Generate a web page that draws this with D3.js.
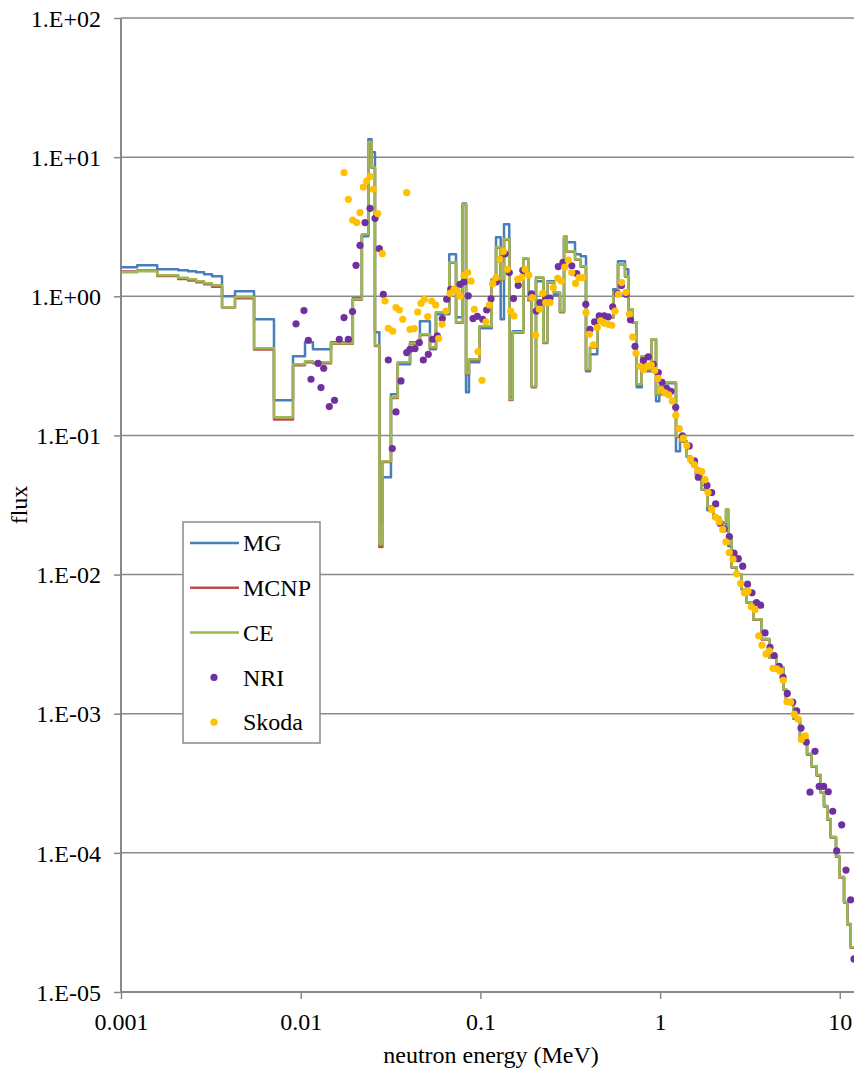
<!DOCTYPE html>
<html>
<head>
<meta charset="utf-8">
<script src="https://cdn.jsdelivr.net/npm/d3@7/dist/d3.min.js"></script>
<style>
  body { margin: 0; background: #fff; }
  svg text { font-family: "Liberation Serif", "Times New Roman", Times, "DejaVu Serif", serif; fill: #000; }
</style>
</head>
<body>
<div class="chart"></div>
<script>
// Group boundaries (MeV) shared by the three calculated spectra
var groupBounds = [0.001, 0.00123, 0.00159, 0.00208, 0.00236, 0.00262, 0.00290, 0.00321, 0.00365, 0.00431,
  0.00550, 0.00710, 0.00906, 0.01057, 0.0117, 0.01475, 0.0195, 0.0219, 0.0238, 0.0248,
  0.0259, 0.0274, 0.0285, 0.0318, 0.0347, 0.0406, 0.0461, 0.0524, 0.0566, 0.0671,
  0.0732, 0.0797, 0.0832, 0.0864, 0.0986, 0.1156, 0.1222, 0.1297, 0.1353, 0.1448,
  0.1513, 0.1733, 0.1848, 0.193, 0.2039, 0.2239, 0.2357, 0.2568, 0.2773, 0.292,
  0.3022, 0.3362, 0.3615, 0.387, 0.4074, 0.4473, 0.5492, 0.5833, 0.6379, 0.6655,
  0.7042, 0.7413, 0.7903, 0.8245, 0.8983, 0.9491, 0.9899, 1.0885, 1.226, 1.291,
  1.4065, 1.481, 1.585, 1.705, 1.832, 1.978, 2.155, 2.327, 2.396, 2.503,
  2.670, 2.847, 3.034, 3.303, 3.677, 4.054, 4.457, 4.851, 5.021, 5.513,
  6.005, 6.572, 6.981, 7.44, 7.831, 8.17, 8.522, 8.902, 9.528, 9.94,
  10.56, 11.01, 11.5, 12.0];

var mgFlux = [1.615, 1.670, 1.563, 1.537, 1.512, 1.487, 1.439, 1.392, 1.0, 1.086,
  0.684, 0.179, 0.371, 0.467, 0.416, 0.467, 0.967, 2.70, 13.42, 10.83,
  0.551, 0.0238, 0.0501, 0.198, 0.325, 0.467, 0.661, 0.416, 0.743, 2.003,
  0.707, 4.65, 0.204, 0.336, 0.589, 1.325, 2.654, 0.684, 3.290, 0.188,
  0.560, 1.563, 0.936, 0.2257, 1.282, 0.467, 1.282, 1.017, 0.767, 2.567,
  2.443, 2.003, 1.938, 0.289, 0.383, 0.707, 1.123, 1.784, 1.563, 0.806,
  0.650, 0.222, 0.371, 0.289, 0.491, 0.176, 0.198, 0.237, 0.0770, 0.0908,
  0.0709, 0.0642, 0.0520, 0.0411, 0.0290, 0.0255, 0.0238, 0.0229, 0.0160, 0.0113,
  0.01007, 0.00785, 0.00633, 0.00478, 0.00344, 0.00255, 0.00216, 0.00150, 0.00121, 0.000930,
  0.000668, 0.000513, 0.000420, 0.000362, 0.000273, 0.000217, 0.000175, 0.000130, 0.0000948, 0.0000670,
  0.0000443, 0.0000308, 0.0000210];

var mcnpFlux = [1.51, 1.53, 1.40, 1.33, 1.30, 1.26, 1.22, 1.17, 0.830, 0.97,
  0.415, 0.130, 0.320, 0.336, 0.330, 0.455, 0.945, 2.77, 12.7, 8.40,
  0.440, 0.0158, 0.0645, 0.186, 0.333, 0.455, 0.527, 0.425, 0.760, 1.74,
  0.645, 4.55, 0.275, 0.350, 0.603, 1.31, 2.23, 1.31, 2.55, 0.180,
  0.546, 1.86, 0.945, 0.222, 1.36, 0.462, 1.25, 1.06, 0.773, 2.68,
  2.09, 1.83, 1.63, 0.296, 0.426, 0.700, 1.06, 1.69, 1.38, 0.800,
  0.645, 0.231, 0.368, 0.296, 0.487, 0.196, 0.224, 0.239, 0.0975, 0.0900,
  0.0702, 0.0636, 0.0521, 0.0407, 0.0307, 0.0255, 0.0236, 0.0292, 0.0187, 0.0112,
  0.00998, 0.00778, 0.00627, 0.00474, 0.00341, 0.00253, 0.00214, 0.00149, 0.00120, 0.000921,
  0.000662, 0.000508, 0.000416, 0.000358, 0.000270, 0.000215, 0.000173, 0.000129, 0.0000939, 0.0000664,
  0.0000439, 0.0000305, 0.0000208];

var ceFlux = [1.487, 1.512, 1.415, 1.358, 1.325, 1.282, 1.240, 1.199, 0.834, 0.99,
  0.423, 0.135, 0.325, 0.341, 0.336, 0.460, 0.952, 2.789, 12.84, 8.45,
  0.445, 0.01654, 0.0653, 0.188, 0.336, 0.460, 0.533, 0.430, 0.767, 1.755,
  0.650, 4.58, 0.280, 0.353, 0.609, 1.325, 2.249, 1.325, 2.567, 0.182,
  0.551, 1.875, 0.952, 0.2257, 1.369, 0.467, 1.260, 1.068, 0.780, 2.698,
  2.105, 1.844, 1.643, 0.299, 0.430, 0.707, 1.068, 1.698, 1.392, 0.806,
  0.650, 0.2333, 0.371, 0.299, 0.491, 0.1977, 0.2257, 0.241, 0.0987, 0.0908,
  0.0709, 0.0642, 0.0526, 0.0411, 0.0310, 0.0258, 0.0238, 0.0295, 0.01887, 0.01130,
  0.01007, 0.00785, 0.00633, 0.00478, 0.00344, 0.00255, 0.00216, 0.00150, 0.00121, 0.000930,
  0.000668, 0.000513, 0.000420, 0.000362, 0.000273, 0.000217, 0.000175, 0.000130, 0.0000948, 0.0000670,
  0.0000443, 0.0000308, 0.0000210];

// Measured points
var nriEnergy = [0.00942, 0.01043, 0.01103, 0.01141, 0.01249, 0.01343, 0.01297, 0.01443, 0.01542, 0.01640,
  0.01742, 0.01841, 0.01943, 0.02032, 0.02138, 0.02280, 0.02431, 0.02592, 0.02738, 0.02883,
  0.03073, 0.03234, 0.03391, 0.03615, 0.03890, 0.04058, 0.04326, 0.04571, 0.04812, 0.05130,
  0.05429, 0.05758, 0.06138, 0.06494, 0.06836, 0.07700, 0.08105, 0.08565, 0.09097, 0.09612,
  0.1030, 0.1084, 0.1146, 0.1227, 0.1291, 0.1371, 0.1448, 0.1529, 0.1623, 0.1722,
  0.1925, 0.2047, 0.2146, 0.2312, 0.2440, 0.2714, 0.2882, 0.3227, 0.3436, 0.3860,
  0.4074, 0.4322, 0.4584, 0.4887, 0.5150, 0.5449, 0.5780, 0.6100, 0.6461, 0.6844,
  0.7252, 0.8068, 0.8600, 0.9168, 0.9775, 1.025, 1.088, 1.150, 1.222, 1.332,
  1.452, 1.554, 1.632, 1.824, 1.937, 2.039, 2.155, 2.275, 2.428, 2.578,
  2.725, 2.883, 3.066, 3.247, 3.440, 3.630, 3.837, 4.090, 4.316, 4.602,
  4.831, 5.105, 5.470, 5.758, 6.085, 6.512, 7.278, 6.829, 7.682, 8.138,
  8.631, 9.134, 10.25, 9.614, 10.83, 11.50, 12.0];
var nriFlux = [0.634, 0.789, 0.483, 0.2533, 0.330, 0.304, 0.2209, 0.1612, 0.1790, 0.491,
  0.703, 0.491, 0.776, 1.670, 2.325, 3.385, 4.287, 3.635, 2.201, 1.034,
  0.3485, 0.0805, 0.1475, 0.2463, 0.394, 0.416, 0.421, 0.465, 0.3485, 0.383,
  0.491, 0.519, 0.692, 0.952, 1.123, 1.219, 1.267, 1.008, 0.692, 0.718,
  0.684, 0.797, 0.959, 1.271, 1.844, 2.020, 1.480, 0.963, 1.199, 1.537,
  1.042, 0.784, 0.901, 0.958, 0.971, 1.635, 1.755, 1.656, 1.458, 0.876,
  0.579, 0.654, 0.722, 0.722, 0.712, 0.838, 1.051, 1.194, 1.034, 0.678,
  0.437, 0.345, 0.3675, 0.3247, 0.2830, 0.241, 0.2183, 0.2077, 0.1594, 0.0992,
  0.0841, 0.0656, 0.0501, 0.0437, 0.0389, 0.0322, 0.0234, 0.0213, 0.01878, 0.01424,
  0.0130, 0.01149, 0.00853, 0.00739, 0.00630, 0.00603, 0.00381, 0.00300, 0.00262, 0.00219,
  0.00183, 0.00140, 0.00121, 0.00105, 0.000788, 0.000625, 0.000537, 0.000273, 0.000300, 0.000300,
  0.000275, 0.000199, 0.000159, 0.0001035, 0.0000752, 0.0000460, 0.0000173];

var skodaEnergy = [0.01742, 0.01841, 0.01947, 0.02050, 0.02138, 0.02231, 0.02330, 0.02431, 0.02535, 0.02683,
  0.02846, 0.02946, 0.03073, 0.03251, 0.03391, 0.03538, 0.03695, 0.03890, 0.04058, 0.04288,
  0.04479, 0.04673, 0.04875, 0.05092, 0.05358, 0.05640, 0.05861, 0.06116, 0.06437, 0.06774,
  0.07130, 0.07438, 0.07700, 0.08105, 0.08501, 0.08869, 0.09250, 0.09699, 0.1021, 0.1074,
  0.1121, 0.1171, 0.1222, 0.1286, 0.1341, 0.1412, 0.1475, 0.1538, 0.1613, 0.1698,
  0.1772, 0.1858, 0.1945, 0.2031, 0.2127, 0.2223, 0.2310, 0.2440, 0.2545, 0.2693,
  0.2821, 0.2947, 0.3085, 0.3222, 0.3383, 0.3539, 0.3710, 0.3870, 0.4037, 0.4250,
  0.4473, 0.4672, 0.4893, 0.5150, 0.5379, 0.5612, 0.5855, 0.6115, 0.6461, 0.6741,
  0.7042, 0.7345, 0.7730, 0.8106, 0.8545, 0.8935, 0.9333, 0.9736, 1.012, 1.065,
  1.117, 1.170, 1.223, 1.278, 1.346, 1.407, 1.477, 1.548, 1.632, 1.705,
  1.778, 1.848, 1.937, 2.042, 2.136, 2.231, 2.327, 2.428, 2.546, 2.670,
  2.810, 2.950, 3.086, 3.218, 3.374, 3.538, 3.691, 3.886, 4.054, 4.251,
  4.457, 4.649, 4.850, 5.085, 5.332, 5.584, 5.855, 6.109, 6.429];
var skodaFlux = [7.740, 4.975, 3.533, 3.385, 3.993, 6.099, 6.735, 7.243, 5.871, 3.928,
  2.027, 0.925, 0.589, 0.561, 0.829, 0.797, 0.684, 5.559, 0.579, 0.586,
  0.771, 0.891, 0.952, 0.715, 0.925, 0.866, 0.497, 0.629, 0.784, 1.051,
  1.123, 1.092, 1.005, 1.415, 1.480, 1.288, 0.807, 0.401, 0.2492, 0.654,
  0.866, 1.234, 1.362, 1.844, 2.095, 1.563, 0.784, 0.722, 1.325, 1.362,
  1.563, 1.422, 0.979, 0.527, 0.807, 1.051, 0.901, 0.901, 1.155, 1.347,
  1.288, 1.624, 1.823, 1.480, 1.240, 1.362, 1.362, 0.764, 0.533, 0.447,
  0.596, 0.665, 0.640, 0.629, 0.619, 0.784, 1.034, 1.254, 1.068, 0.746,
  0.510, 0.3895, 0.3142, 0.2975, 0.3157, 0.3220, 0.2931, 0.2567, 0.2123, 0.2020,
  0.1961, 0.1770, 0.1397, 0.1121, 0.0955, 0.0846, 0.0675, 0.0616, 0.0561, 0.0550,
  0.0481, 0.0389, 0.0294, 0.0258, 0.0240, 0.0211, 0.01717, 0.01441, 0.01290, 0.01012,
  0.00865, 0.00741, 0.00760, 0.00588, 0.00560, 0.00363, 0.00311, 0.00269, 0.00283, 0.00212,
  0.00210, 0.00203, 0.00174, 0.00122, 0.00121, 0.000993, 0.000915, 0.000654, 0.000694];

var xTicks = [0.001, 0.01, 0.1, 1, 10];
var xTickLabels = ["0.001", "0.01", "0.1", "1", "10"];
var yTicks = [1e-5, 1e-4, 1e-3, 1e-2, 1e-1, 1, 10, 100];
var yTickLabels = ["1.E-05", "1.E-04", "1.E-03", "1.E-02", "1.E-01", "1.E+00", "1.E+01", "1.E+02"];

var lineSeries = [
  { name: "MG", values: mgFlux, color: "#4a7ebb" },
  { name: "MCNP", values: mcnpFlux, color: "#be4b48" },
  { name: "CE", values: ceFlux, color: "#98b954" }
];
var pointSeries = [
  { name: "NRI", energy: nriEnergy, flux: nriFlux, color: "#7030a0" },
  { name: "Skoda", energy: skodaEnergy, flux: skodaFlux, color: "#ffc000" }
];

var serif = "'Liberation Serif', 'Times New Roman', Times, 'DejaVu Serif', serif";
var svgWidth = 854;
var svgHeight = 1072;
var margin = { top: 18, right: 0, bottom: 80, left: 121 };
var width = svgWidth - margin.left - margin.right;
var height = svgHeight - margin.top - margin.bottom;
var gray = "#898989";

var svg = d3.select(".chart")
  .append("svg")
  .attr("width", svgWidth)
  .attr("height", svgHeight)
  .style("display", "block");

var chart = svg.append("g")
  .attr("transform", "translate(" + margin.left + "," + margin.top + ")");

var xScale = d3.scaleLog().domain([0.001, 12]).range([0, width]);
var yScale = d3.scaleLog().domain([1e-5, 100]).range([height, 0]);

// horizontal gridlines
chart.selectAll(".grid")
  .data(yTicks)
  .enter()
  .append("line")
  .attr("class", "grid")
  .attr("x1", 0)
  .attr("x2", width)
  .attr("y1", function(d) { return yScale(d); })
  .attr("y2", function(d) { return yScale(d); })
  .attr("stroke", gray)
  .attr("stroke-width", 1.5);

// axes
var leftAxis = d3.axisLeft(yScale)
  .tickValues(yTicks)
  .tickSize(7)
  .tickPadding(13)
  .tickFormat(function(d, i) { return yTickLabels[i]; });
var bottomAxis = d3.axisBottom(xScale)
  .tickValues(xTicks)
  .tickSize(7)
  .tickPadding(10)
  .tickFormat(function(d, i) { return xTickLabels[i]; });

var yAxisG = chart.append("g").attr("class", "yAxis").call(leftAxis);
var xAxisG = chart.append("g")
  .attr("class", "xAxis")
  .attr("transform", "translate(0," + height + ")")
  .call(bottomAxis);

[yAxisG, xAxisG].forEach(function(g) {
  g.attr("font-family", serif);
  g.select(".domain").attr("stroke", gray).attr("stroke-width", 2);
  g.selectAll(".tick line").attr("stroke", gray).attr("stroke-width", 1.5);
  g.selectAll(".tick text")
    .attr("fill", "#000")
    .style("font-family", serif)
    .style("font-size", "24px");
});
yAxisG.select(".domain").attr("d", "M0," + height + "V0");
xAxisG.select(".domain").attr("d", "M0,0H" + width);
yAxisG.selectAll(".tick text").attr("dy", "0.34em");
xAxisG.selectAll(".tick text").attr("dy", "0.88em");

// step lines
var stepLine = d3.line()
  .x(function(d) { return xScale(d[0]); })
  .y(function(d) { return yScale(d[1]); })
  .curve(d3.curveStepAfter);

lineSeries.forEach(function(s) {
  var pts = s.values.map(function(v, i) { return [groupBounds[i], v]; });
  pts.push([groupBounds[groupBounds.length - 1], s.values[s.values.length - 1]]);
  chart.append("path")
    .datum(pts)
    .attr("class", "step " + s.name)
    .attr("fill", "none")
    .attr("stroke", s.color)
    .attr("stroke-width", 2.5)
    .attr("stroke-linejoin", "round")
    .attr("d", stepLine);
});

// measured points
pointSeries.forEach(function(s) {
  chart.selectAll(null)
    .data(s.energy)
    .enter()
    .append("circle")
    .attr("cx", function(d) { return xScale(d); })
    .attr("cy", function(d, i) { return yScale(s.flux[i]); })
    .attr("r", 3.6)
    .attr("fill", s.color);
});

// axis titles
svg.append("text")
  .attr("transform", "translate(27,505) rotate(-90)")
  .attr("text-anchor", "middle")
  .style("font-family", serif)
  .style("font-size", "24px")
  .text("flux");
svg.append("text")
  .attr("x", 491)
  .attr("y", 1063)
  .attr("text-anchor", "middle")
  .style("font-family", serif)
  .style("font-size", "24px")
  .text("neutron energy (MeV)");

// legend
var legend = svg.append("g").attr("transform", "translate(183,522)");
legend.append("rect")
  .attr("width", 137)
  .attr("height", 221)
  .attr("fill", "#fff")
  .attr("stroke", gray)
  .attr("stroke-width", 1.5);

var legendItems = lineSeries.concat(pointSeries);
legendItems.forEach(function(s, i) {
  var ly = 21 + i * 44.8;
  if (s.values) {
    legend.append("line")
      .attr("x1", 7).attr("x2", 56)
      .attr("y1", ly).attr("y2", ly)
      .attr("stroke", s.color)
      .attr("stroke-width", 2.5);
  } else {
    legend.append("circle")
      .attr("cx", 31).attr("cy", ly)
      .attr("r", 3.6)
      .attr("fill", s.color);
  }
  legend.append("text")
    .attr("x", 60)
    .attr("y", ly)
    .attr("dy", "0.34em")
    .style("font-family", serif)
    .style("font-size", "24px")
    .text(s.name);
});
</script>
</body>
</html>
